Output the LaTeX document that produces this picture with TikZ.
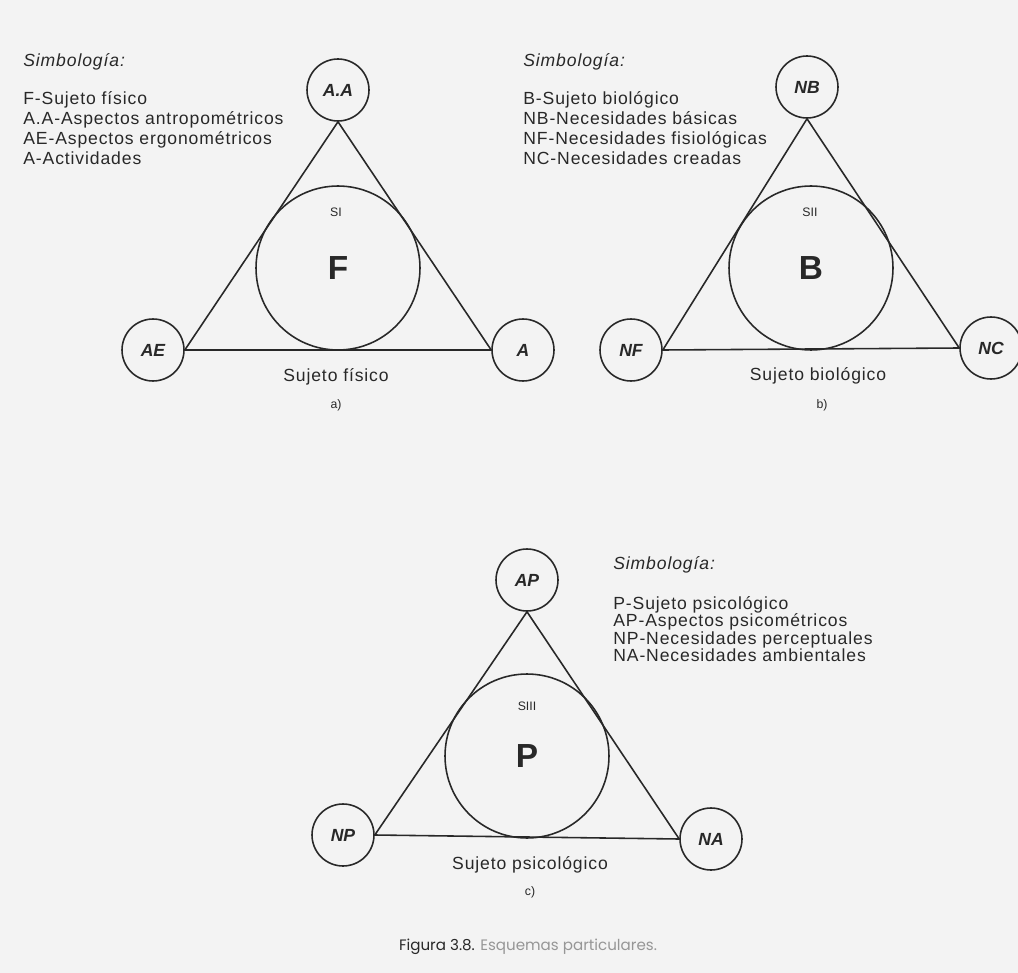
\documentclass[tikz,border=0pt]{standalone}
\usepackage{fontspec}
\setmainfont{Liberation Sans}
\newfontfamily\symfont[LetterSpace=5]{Liberation Sans}
\newfontfamily\capfont{Poppins}
\definecolor{ink}{RGB}{40,40,40}
\definecolor{paper}{RGB}{243,243,243}
\definecolor{capgray}{RGB}{150,150,150}

\begin{document}
\begin{tikzpicture}[x=0.02cm,y=-0.02cm,
    every node/.style={text=ink},
    smallcirc/.style={draw=ink,circle,line width=0.9pt,minimum size=1.24cm,inner sep=0pt,
        font=\bfseries\itshape\fontsize{10}{11}\selectfont},
    bigcirc/.style={draw=ink,circle,line width=0.9pt,minimum size=3.28cm,inner sep=0pt,
        font=\bfseries\fontsize{19}{21}\selectfont},
    tri/.style={draw=ink,line width=0.9pt,line join=round},
    symhead/.style={anchor=west,inner sep=0pt,font=\symfont\itshape\fontsize{10}{12}\selectfont},
    legend/.style={align=left,anchor=west,inner sep=0pt,font=\symfont\fontsize{10}{11.4}\selectfont},
    subj/.style={font=\symfont\fontsize{10}{12}\selectfont},
    tag/.style={font=\fontsize{7}{8}\selectfont}]

    \fill[paper] (0,0) rectangle (1018,973);
    \useasboundingbox (0,0) rectangle (1018,973);

    % a) Sujeto fisico
    \node[symhead] (sima) at (23,62) {Simbología:};
    \node[legend] (lega) at (23,128) {F-Sujeto físico\\A.A-Aspectos antropométricos\\AE-Aspectos ergonométricos\\A-Actividades};
    \node[smallcirc] (aa) at (338,90) {A.A};
    \node[smallcirc] (ae) at (153,350) {AE};
    \node[smallcirc] (a) at (523,350) {A};
    \node[bigcirc] (f) at (338,268) {F};
    \node[tag] (si) at (336,212) {SI};
    \node[subj] (sujf) at (336,377) {Sujeto físico};
    \node[tag] (la) at (336,405) {a)};
    \draw[tri] (ae.east) -- (aa.south) -- (a.west) -- cycle;

    % b) Sujeto biologico
    \node[symhead] (simb) at (523,62) {Simbología:};
    \node[legend] (legb) at (523,128) {B-Sujeto biológico\\NB-Necesidades básicas\\NF-Necesidades fisiológicas\\NC-Necesidades creadas};
    \node[smallcirc] (nb) at (807,87) {NB};
    \node[smallcirc] (nf) at (631,350) {NF};
    \node[smallcirc] (nc) at (991,348) {NC};
    \node[bigcirc] (b) at (811,268) {B};
    \node[tag] (sii) at (810,212) {SII};
    \node[subj] (sujb) at (818,376) {Sujeto biológico};
    \node[tag] (lb) at (822,405) {b)};
    \draw[tri] (nf.east) -- (nb.south) -- (nc.west) -- cycle;

    % c) Sujeto psicologico
    \node[symhead] (simc) at (613,565) {Simbología:};
    \node[legend,font=\symfont\fontsize{10}{10}\selectfont] (legc) at (613,629) {P-Sujeto psicológico\\AP-Aspectos psicométricos\\NP-Necesidades perceptuales\\NA-Necesidades ambientales};
    \node[smallcirc] (ap) at (527,580) {AP};
    \node[smallcirc] (np) at (343,835) {NP};
    \node[smallcirc] (na) at (711,839) {NA};
    \node[bigcirc] (p) at (527,756) {P};
    \node[tag] (siii) at (527,706) {SIII};
    \node[subj] (sujp) at (530,865) {Sujeto psicológico};
    \node[tag] (lc) at (530,892) {c)};
    \draw[tri] (np.east) -- (ap.south) -- (na.west) -- cycle;

    % Caption
    \node[font=\capfont\fontsize{8.6}{10}\selectfont] (cap) at (528,947) {Figura 3.8. \textcolor{capgray}{Esquemas particulares.}};

\end{tikzpicture}
\end{document}
